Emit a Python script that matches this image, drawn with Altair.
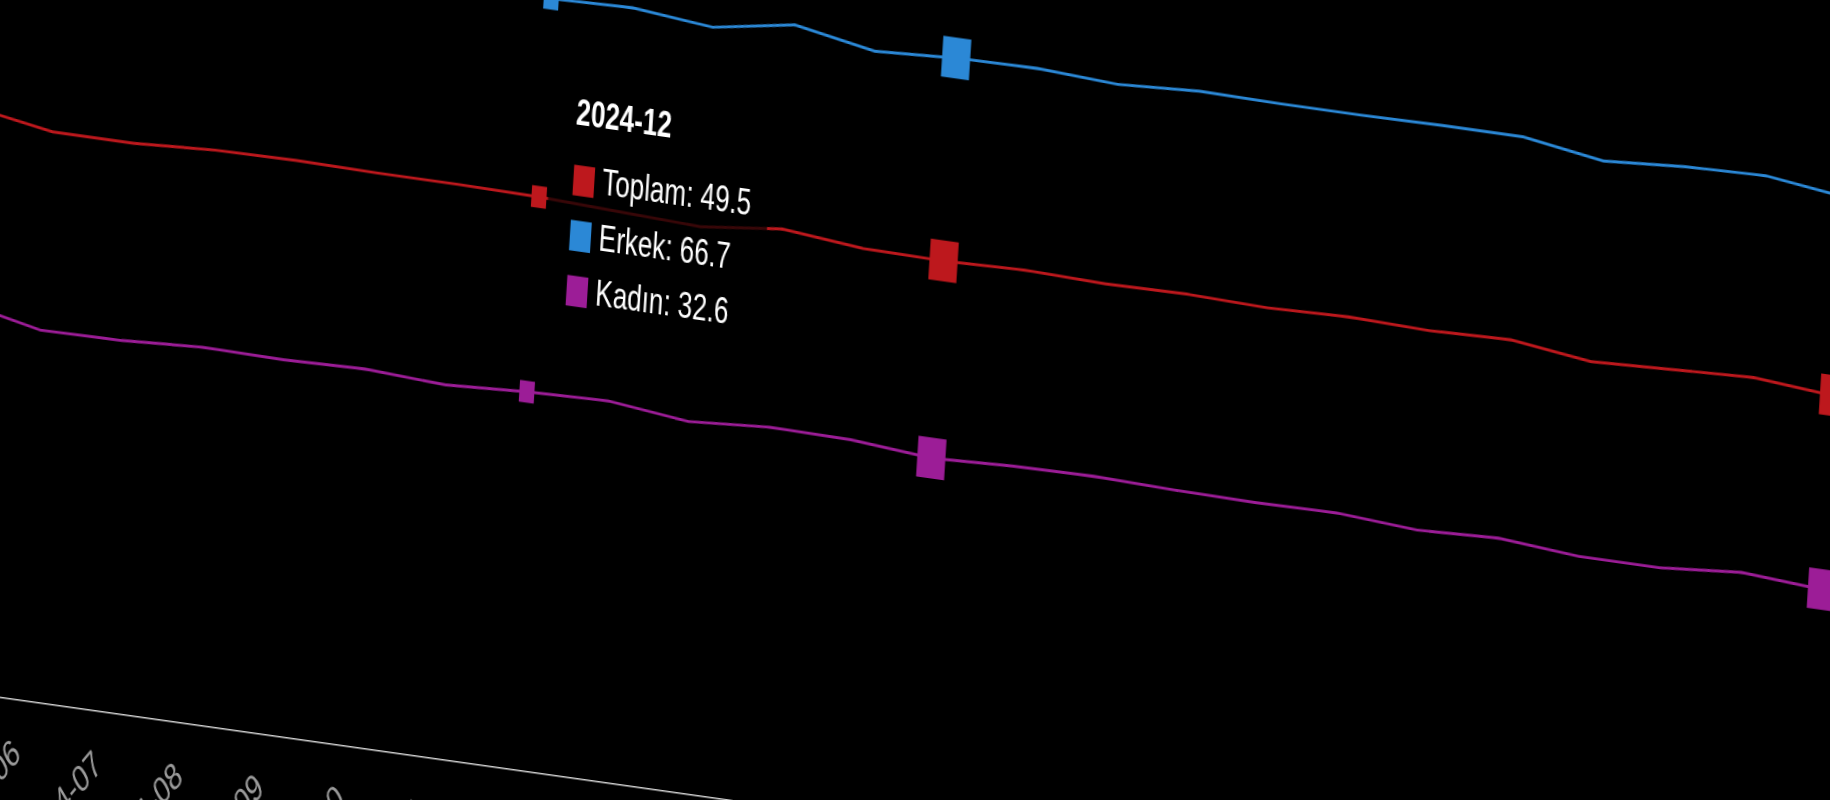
import altair as alt
import pandas as pd
import jinja2

# ---------------- data ----------------
aylar = ["2024-05", "2024-06", "2024-07", "2024-08", "2024-09", "2024-10",
         "2024-11", "2024-12", "2025-01", "2025-02", "2025-03", "2025-04",
         "2025-05", "2025-06", "2025-07", "2025-08", "2025-09", "2025-10",
         "2025-11", "2025-12", "2026-01", "2026-02", "2026-03", "2026-04"]
toplam = [50.4, 49.2, 49.2, 49.6, 49.7, 49.6, 49.6, 49.5, 49.2, 48.9, 49.7, 49.0,
          48.9, 49.1, 48.9, 49.0, 48.8, 49.0, 48.8, 49.0, 48.1, 48.4, 48.7, 48.1]
erkek = [67.3, 66.4, 66.3, 66.7, 66.8, 66.6, 66.9, 66.7, 66.9, 66.2, 67.4, 66.1,
         66.5, 66.6, 66.2, 66.6, 66.5, 66.5, 66.6, 66.6, 65.5, 66.0, 66.2, 65.3]
kadin = [33.5, 32.0, 32.1, 32.5, 32.4, 32.6, 32.2, 32.6, 32.8, 32.0, 32.5, 32.4,
         31.8, 32.1, 32.2, 32.0, 31.9, 32.0, 31.5, 31.8, 31.2, 31.2, 31.8, 31.3]
seriler = ["Toplam", "Erkek", "Kadın"]
renkler = ["#bd181d", "#2b88d6", "#9c1d97"]
secili_ay = "2024-12"
buyuk_isaret_aylari = ["2025-05", "2026-04"]

degerler = {"Toplam": toplam, "Erkek": erkek, "Kadın": kadin}
df = pd.DataFrame([{"ay": a, "seri": s, "deger": degerler[s][i]}
                   for s in seriler for i, a in enumerate(aylar)])
i_sec = aylar.index(secili_ay)
tt = pd.DataFrame({"ay": [secili_ay], "deger": [toplam[i_sec]]})

FONT = "Liberation Sans"

X = alt.X("ay:O",
          scale=alt.Scale(type="point", domain=aylar, padding=0.5),
          title=None,
          axis=alt.Axis(labelAngle=-45, labelAlign="right", labelBaseline="middle",
                        labelFontSize=26, labelColor="#9a9a9a", labelFont=FONT,
                        labelPadding=33, labelOffset=2, ticks=False, grid=False,
                        domainColor="#d0d0d0", domainWidth=1, labelOverlap=False))
Y = alt.Y("deger:Q", scale=alt.Scale(domain=[0, 80]), axis=None)
RENK = alt.Color("seri:N", scale=alt.Scale(domain=seriler, range=renkler), legend=None)

cizgiler = alt.Chart(df).mark_line(strokeWidth=2).encode(x=X, y=Y, color=RENK)

buyuk = alt.Chart(df).transform_filter(
    alt.FieldOneOfPredicate(field="ay", oneOf=buyuk_isaret_aylari)
).mark_square(size=784, opacity=1).encode(x=X, y=Y, color=RENK)

kucuk = alt.Chart(df).transform_filter(
    alt.FieldEqualPredicate(field="ay", equal=secili_ay)
).mark_square(size=225, opacity=1).encode(x=X, y=Y, color=RENK)

kutu = alt.Chart(tt).mark_rect(color="#000000", opacity=0.7,
                               xOffset=9, x2Offset=228, yOffset=-95, y2Offset=92
                               ).encode(x=X, x2="ay", y=Y, y2="deger")

baslik = alt.Chart(tt).mark_text(text=secili_ay, align="left", baseline="alphabetic",
                                 dx=32, dy=-53, fontSize=26, fontWeight="bold",
                                 font=FONT, color="#ffffff").encode(x=X, y=Y)

katmanlar = [cizgiler, buyuk, kucuk, kutu, baslik]
for j, s in enumerate(seriler):
    taban = -7.5 + 38 * j
    katmanlar.append(
        alt.Chart(tt).mark_square(size=441, color=renkler[j], opacity=1,
                                  xOffset=43.5, yOffset=taban - 7.5).encode(x=X, y=Y))
    katmanlar.append(
        alt.Chart(tt).mark_text(text=f"{s}: {degerler[s][i_sec]:.1f}", align="left",
                                baseline="alphabetic", dx=62, dy=taban, fontSize=26,
                                font=FONT, color="#ffffff").encode(x=X, y=Y))

chart = alt.layer(*katmanlar).properties(
    width=1944, height=636, background="#000000",
    padding={"left": 0, "top": 0, "right": 0, "bottom": 190},
    autosize=alt.AutoSizeParams(type="none"),
).configure_view(stroke=None)

# page template: the photographed chart is seen at an oblique angle, so the
# whole rendered view is given the same affine (tilt/skew/stretch) transform
SAYFA = jinja2.Template("""<!DOCTYPE html>
<html>
<head>
  <meta charset="utf-8">
  <style>
    html { overflow: hidden !important; background: #000000; }
    body { margin: 8px; background: #000000; overflow: visible !important; }
    #{{ output_div }} { position: fixed; left: 8px; top: 8px; margin: 0;
      transform-origin: 0 0;
      transform: matrix(1, 0.141, -0.09, 1.45, -54.7, -248.3); }
  </style>
  <script type="text/javascript" src="{{ base_url }}/vega@{{ vega_version }}"></script>
  <script type="text/javascript" src="{{ base_url }}/vega-lite@{{ vegalite_version }}"></script>
  <script type="text/javascript" src="{{ base_url }}/vega-embed@{{ vegaembed_version }}"></script>
</head>
<body>
  <div id="{{ output_div }}"></div>
  <script type="text/javascript">
    var spec = {{ spec }};
    var embedOpt = {{ embed_options }};
    vegaEmbed("#{{ output_div }}", spec, embedOpt).catch(function (err) {
      document.getElementById("{{ output_div }}").innerHTML = String(err);
      console.error(err);
    });
  </script>
</body>
</html>
""")

chart.save("out.html", embed_options={"renderer": "svg", "actions": False}, template=SAYFA)
